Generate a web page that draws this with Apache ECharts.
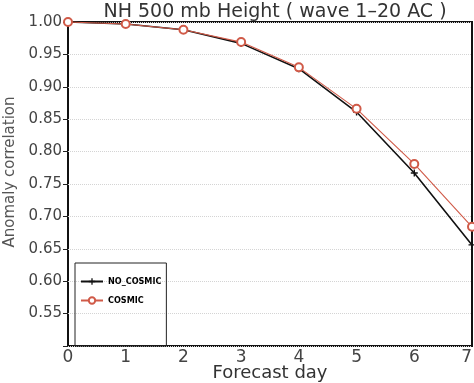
<!DOCTYPE html>
<html><head><meta charset="utf-8">
<script src="https://cdn.jsdelivr.net/npm/echarts@6/dist/echarts.min.js"></script>
<style>html,body{margin:0;padding:0;background:#fff}#c{width:474px;height:383px}</style>
</head><body><div id="c"></div>
<script>
var days = [0, 1, 2, 3, 4, 5, 6, 7];
var noCosmic = [1.000, 0.997, 0.988, 0.967, 0.928, 0.861, 0.767, 0.656];
var cosmic = [1.000, 0.997, 0.988, 0.969, 0.930, 0.866, 0.781, 0.684];
var titleText = 'NH 500 mb Height ( wave 1\u201320 AC )';
var xName = 'Forecast day';
var yName = 'Anomaly correlation';
var seriesNames = ['NO_COSMIC', 'COSMIC'];

var plusPath = 'path://M4,0L6,0L6,4L10,4L10,6L6,6L6,10L4,10L4,6L0,6L0,4L4,4Z';
var chart = echarts.init(document.getElementById('c'));
var font = 'DejaVu Sans';
chart.setOption({
  animation: false,
  backgroundColor: '#fff',
  title: {text: titleText, left: 270, textAlign: 'center', top: -2,
    textStyle: {fontFamily: font, fontWeight: 'normal', fontSize: 19, color: '#333'}},
  grid: {left: 68, right: 2, top: 22, bottom: 37, show: true, borderColor: '#111', borderWidth: 2,
    outerBoundsMode: 'none', containLabel: false},
  legend: {orient: 'vertical', left: 75, top: 263,
    padding: [14, 5, 41, 5], itemGap: 10, itemWidth: 22, itemHeight: 8,
    borderColor: '#222', borderWidth: 1,
    textStyle: {fontFamily: 'DejaVu Sans Condensed', fontWeight: 'bold', fontSize: 9, color: '#000'},
    data: seriesNames},
  xAxis: {type: 'value', min: 0, max: 7, interval: 1, name: xName, nameLocation: 'middle', nameGap: 18,
    nameMoveOverlap: false,
    nameTextStyle: {fontFamily: font, fontSize: 18, color: '#333', verticalAlign: 'top'},
    axisLine: {show: false}, axisTick: {show: false}, splitLine: {show: false},
    axisLabel: {fontFamily: font, fontSize: 17, color: '#444', margin: 3, alignMaxLabel: 'right'}},
  yAxis: {type: 'value', min: 0.5, max: 1.0, interval: 0.05, name: yName, nameLocation: 'middle', nameGap: 49,
    nameTextStyle: {fontFamily: font, fontSize: 15, color: '#555', padding: [0, 0, 0, 24]},
    axisLine: {show: false}, axisTick: {show: true, length: 5, inside: false, lineStyle: {color: '#222'}},
    splitLine: {show: true, lineStyle: {color: '#d4d4d4', type: 'dotted', width: 1}},
    axisLabel: {fontFamily: font, fontSize: 15, color: '#444', margin: 6,
      formatter: function (v) { return Math.abs(v - 0.5) < 1e-6 ? '' : v.toFixed(2); }}},
  series: [
    {name: seriesNames[0], type: 'line', data: days.map(function (d, i) { return [d, noCosmic[i]]; }),
      symbol: plusPath, symbolSize: 7, clip: false, z: 2,
      itemStyle: {color: '#111'}, lineStyle: {color: '#111', width: 1.6}},
    {name: seriesNames[1], type: 'line', data: days.map(function (d, i) { return [d, cosmic[i]]; }),
      symbol: 'emptyCircle', symbolSize: 8, clip: false, z: 3,
      itemStyle: {color: '#d05a48', borderWidth: 1.2}, lineStyle: {color: '#d05a48', width: 1.1}}
  ]
});
</script></body></html>
